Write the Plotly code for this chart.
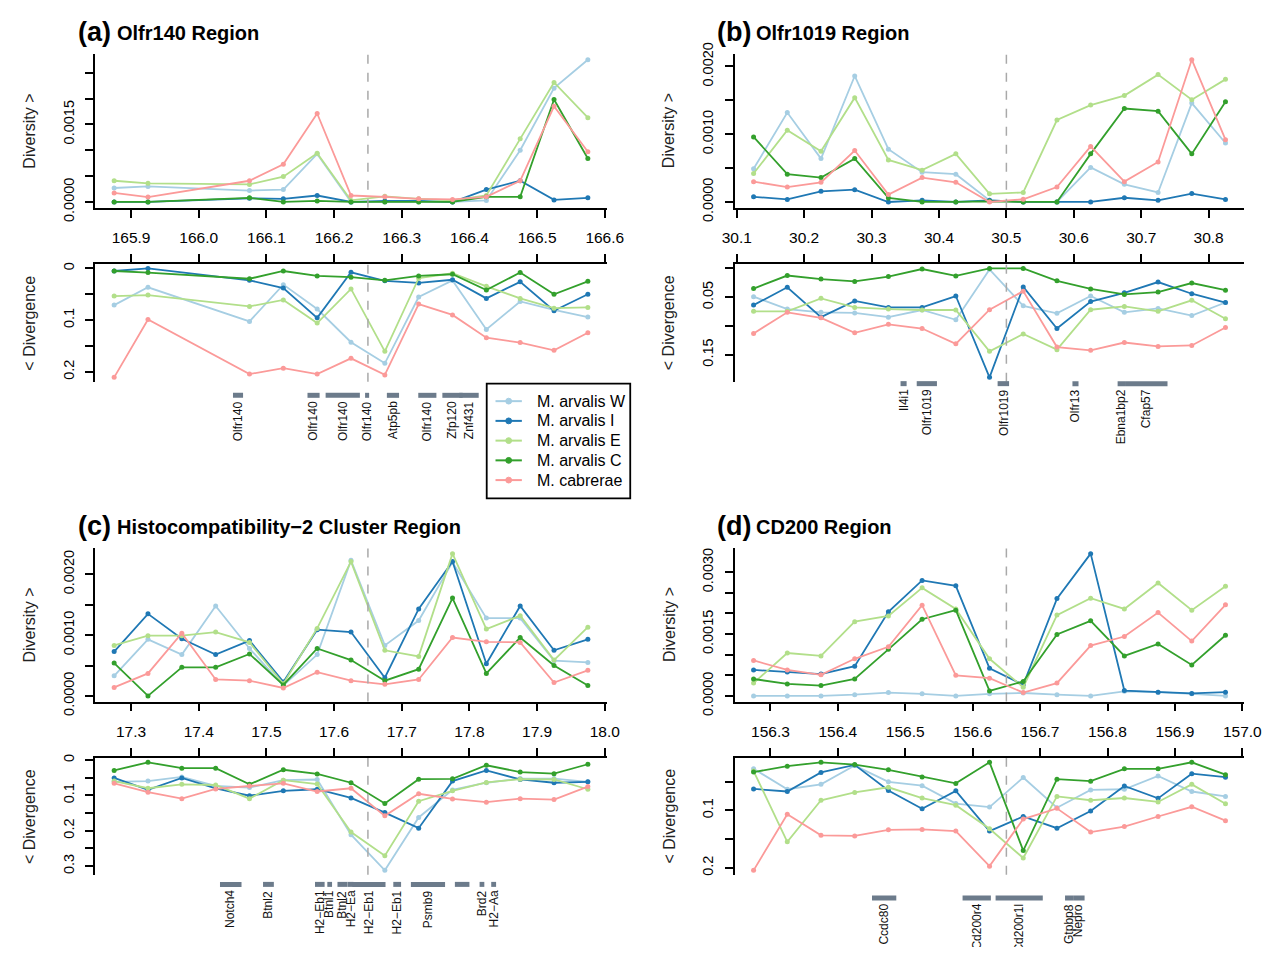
import plotly.graph_objects as go

# ---------------- data ----------------
series_names = ["M. arvalis W", "M. arvalis I", "M. arvalis E", "M. arvalis C", "M. cabrerae"]
series_colors = ["#A6CEE3", "#1F78B4", "#B2DF8A", "#33A02C", "#FB9A99"]

# (a) Olfr140 Region
pos_a = [165.875, 165.925, 166.075, 166.125, 166.175, 166.225, 166.275, 166.325,
         166.375, 166.425, 166.475, 166.525, 166.575]
div_a_W = [0.00027, 0.00030, 0.00022, 0.00024, 0.00093, 0.0, 0.0, 0.0, 0.0, 0.00003, 0.00100, 0.00220, 0.00275]
div_a_I = [0.0, 0.0, 0.00007, 0.00006, 0.000125, 0.0, 0.00002, 0.00002, 0.0, 0.00024, 0.00041, 0.00004, 0.00008]
div_a_E = [0.00041, 0.00036, 0.00034, 0.00049, 0.00094, 0.00003, 0.00011, 0.00006, 0.00003, 0.000125, 0.00122, 0.00231, 0.00163]
div_a_C = [0.0, 0.0, 0.00008, 0.0, 0.00002, 0.0, 0.0, 0.0, 0.0, 0.0001, 0.0001, 0.00198, 0.00084]
div_a_P = [0.000175, 0.000094, 0.00041, 0.00073, 0.00171, 0.000125, 0.0001, 0.00006, 0.00005, 0.0001, 0.00041, 0.00185, 0.00097]
dvg_a_W = [0.071, 0.0365, 0.1025, 0.0314, 0.0786, 0.1428, 0.1836, 0.0553, 0.0233, 0.118, 0.064, 0.080, 0.094]
dvg_a_I = [0.005, 0.0, 0.023, 0.038, 0.0956, 0.0075, 0.024, 0.028, 0.022, 0.058, 0.026, 0.082, 0.050]
dvg_a_E = [0.0535, 0.0516, 0.0736, 0.061, 0.1057, 0.0396, 0.1604, 0.019, 0.0094, 0.0346, 0.058, 0.077, 0.0755]
dvg_a_C = [0.005, 0.008, 0.020, 0.005, 0.0145, 0.017, 0.023, 0.0145, 0.0113, 0.042, 0.008, 0.050, 0.025]
dvg_a_P = [0.2107, 0.0987, 0.2044, 0.193, 0.2044, 0.174, 0.206, 0.069, 0.090, 0.134, 0.1434, 0.1585, 0.1245]
gene_a_name = ["Olfr140", "Olfr140", "Olfr140", "Olfr140", "Atp5pb", "Olfr140", "Zfp120", "Znf431"]
gene_a_start = [166.0506, 166.1607, 166.1875, 166.2458, 166.278, 166.3244, 166.360, 166.385]
gene_a_end = [166.0655, 166.1786, 166.2381, 166.2518, 166.296, 166.3512, 166.390, 166.4137]

# (b) Olfr1019 Region
pos_b = [30.125, 30.175, 30.225, 30.275, 30.325, 30.375, 30.425, 30.475,
         30.525, 30.575, 30.625, 30.675, 30.725, 30.775, 30.825]
div_b_W = [0.00049, 0.00132, 0.00064, 0.00186, 0.00078, 0.00044, 0.00041, 0.000024, 0.0, 0.0, 0.00051, 0.00026, 0.00014, 0.00146, 0.00087]
div_b_I = [0.000076, 0.000038, 0.000157, 0.000181, 0.0, 0.000024, 0.0, 0.000024, 0.0, 0.0, 0.0, 0.000062, 0.000024, 0.000124, 0.000038]
div_b_E = [0.00042, 0.00106, 0.00075, 0.00154, 0.00062, 0.00047, 0.00071, 0.00012, 0.00014, 0.00121, 0.00143, 0.00157, 0.00188, 0.00151, 0.00181]
div_b_C = [0.00096, 0.00041, 0.00036, 0.00064, 0.00006, 0.0, 0.0, 0.00001, 0.0, 0.0, 0.00071, 0.00138, 0.00134, 0.00071, 0.00148]
div_b_P = [0.0003, 0.00022, 0.00029, 0.00076, 0.00011, 0.00036, 0.00029, 0.0, 0.00004, 0.00022, 0.00082, 0.0003, 0.00059, 0.0021, 0.00092]
dvg_b_W = [0.0492, 0.0706, 0.0763, 0.0774, 0.0847, 0.0723, 0.0893, 0.0017, 0.065, 0.078, 0.048, 0.0763, 0.0695, 0.0819, 0.0593]
dvg_b_I = [0.0638, 0.0328, 0.0847, 0.0565, 0.0678, 0.0678, 0.048, 0.1893, 0.0322, 0.1045, 0.0576, 0.0424, 0.0237, 0.044, 0.0593]
dvg_b_E = [0.0746, 0.0746, 0.052, 0.0678, 0.0706, 0.0723, 0.0723, 0.144, 0.114, 0.1412, 0.0718, 0.0661, 0.0746, 0.0554, 0.0876]
dvg_b_C = [0.035, 0.0124, 0.0186, 0.0226, 0.0141, 0.0011, 0.013, 0.0, 0.0, 0.0215, 0.0356, 0.0452, 0.0412, 0.0254, 0.0379]
dvg_b_P = [0.113, 0.0763, 0.0859, 0.1119, 0.0972, 0.1045, 0.1311, 0.0718, 0.0395, 0.1367, 0.1424, 0.1288, 0.1356, 0.1339, 0.1028]
gene_b_name = ["Il4i1", "Olfr1019", "Olfr1019", "Olfr13", "Ebna1bp2", "Cfap57"]
gene_b_start = [30.343, 30.367, 30.487, 30.598, 30.665, 30.676]
gene_b_end = [30.352, 30.397, 30.504, 30.607, 30.676, 30.739]

# (c) Histocompatibility-2 Cluster Region
pos_c = [17.275, 17.325, 17.375, 17.425, 17.475, 17.525, 17.575, 17.625,
         17.675, 17.725, 17.775, 17.825, 17.875, 17.925, 17.975]
div_c_W = [0.00033, 0.00093, 0.00068, 0.00148, 0.00078, 0.00017, 0.00068, 0.00223, 0.00083, 0.00124, 0.0022, 0.00128, 0.00128, 0.00058, 0.00055]
div_c_I = [0.00073, 0.00135, 0.00094, 0.00068, 0.00091, 0.00023, 0.00109, 0.00105, 0.0003, 0.00143, 0.00221, 0.00053, 0.00148, 0.00075, 0.00093]
div_c_E = [0.00083, 0.00099, 0.00099, 0.00105, 0.00088, 0.0002, 0.00111, 0.00221, 0.00075, 0.00065, 0.00234, 0.0011, 0.00132, 0.00059, 0.00113]
div_c_C = [0.00054, 0.0, 0.00047, 0.00047, 0.00069, 0.00018, 0.00078, 0.00059, 0.00025, 0.00044, 0.00161, 0.00037, 0.00096, 0.0005, 0.00017]
div_c_P = [0.00014, 0.00037, 0.00103, 0.00027, 0.00025, 0.00013, 0.00039, 0.00025, 0.00019, 0.00027, 0.00096, 0.00089, 0.00088, 0.00022, 0.00042]
dvg_c_W = [0.0615, 0.0596, 0.0477, 0.0734, 0.078, 0.0569, 0.055, 0.211, 0.312, 0.1624, 0.0844, 0.0642, 0.0523, 0.0523, 0.0615]
dvg_c_I = [0.0505, 0.0844, 0.0505, 0.0798, 0.1009, 0.0872, 0.0826, 0.1073, 0.1486, 0.1927, 0.0596, 0.0294, 0.055, 0.0642, 0.0615]
dvg_c_E = [0.0596, 0.0798, 0.0688, 0.0706, 0.1092, 0.0569, 0.0679, 0.2037, 0.2706, 0.1165, 0.0872, 0.0633, 0.0541, 0.055, 0.0826]
dvg_c_C = [0.0294, 0.0064, 0.0229, 0.0229, 0.0688, 0.0275, 0.0394, 0.0642, 0.1229, 0.0541, 0.0532, 0.0147, 0.0339, 0.0385, 0.0119]
dvg_c_P = [0.066, 0.0908, 0.1092, 0.0817, 0.0734, 0.066, 0.089, 0.0798, 0.1578, 0.0954, 0.1101, 0.1193, 0.1092, 0.1119, 0.0752]
gene_c_name = ["Notch4", "Btnl2", "H2\u2212Eb1", "Btnl1", "Btnl2", "H2\u2212Ea", "H2\u2212Eb1",
               "H2\u2212Eb1", "Psmb9", "", "Brd2", "H2\u2212Aa"]
gene_c_start = [17.4314, 17.495, 17.5718, 17.590, 17.605, 17.6200, 17.6270, 17.6875, 17.7135, 17.7785, 17.815, 17.8322]
gene_c_end = [17.4632, 17.511, 17.5860, 17.597, 17.6198, 17.6286, 17.6760, 17.6990, 17.7640, 17.8000, 17.822, 17.8394]

# (d) CD200 Region
pos_d = [156.275, 156.325, 156.375, 156.425, 156.475, 156.525, 156.575, 156.625,
         156.675, 156.725, 156.775, 156.825, 156.875, 156.925, 156.975]
div_d_W = [0.0, 0.0, 0.0, 0.00003, 0.00008, 0.00005, 0.0, 0.00005, 0.00007, 0.00003, 0.0, 0.00011, 0.00009, 0.00005, 0.0]
div_d_I = [0.00063, 0.00058, 0.00053, 0.00072, 0.00204, 0.0028, 0.00267, 0.00067, 0.00027, 0.00236, 0.00345, 0.00013, 0.00009, 0.00006, 0.00009]
div_d_E = [0.00031, 0.00104, 0.00097, 0.0018, 0.00194, 0.00262, 0.00211, 0.0009, 0.00021, 0.00196, 0.00237, 0.00211, 0.00274, 0.00208, 0.00266]
div_d_C = [0.00041, 0.00029, 0.00025, 0.00041, 0.00113, 0.00186, 0.00208, 0.00012, 0.00035, 0.00149, 0.00182, 0.00097, 0.00126, 0.00075, 0.00147]
div_d_P = [0.00086, 0.00063, 0.00051, 0.0009, 0.00119, 0.0022, 0.0005, 0.00043, 0.00008, 0.00031, 0.00122, 0.00144, 0.00202, 0.00133, 0.00221]
dvg_d_W = [0.0279, 0.0634, 0.0549, 0.0223, 0.0504, 0.0572, 0.0882, 0.0944, 0.0431, 0.0955, 0.0645, 0.0634, 0.0403, 0.0673, 0.0758]
dvg_d_I = [0.0628, 0.0673, 0.0341, 0.0211, 0.0656, 0.0972, 0.0662, 0.1361, 0.1107, 0.131, 0.1011, 0.0577, 0.0792, 0.0363, 0.0425]
dvg_d_E = [0.0318, 0.1546, 0.0825, 0.069, 0.06, 0.0786, 0.091, 0.1321, 0.1828, 0.0758, 0.0825, 0.0786, 0.0854, 0.0549, 0.0887]
dvg_d_C = [0.0335, 0.0234, 0.0166, 0.0206, 0.0296, 0.042, 0.0532, 0.0166, 0.1699, 0.0459, 0.0493, 0.0279, 0.0279, 0.0166, 0.038]
dvg_d_P = [0.2042, 0.1068, 0.1434, 0.1445, 0.1338, 0.1332, 0.1361, 0.1969, 0.1152, 0.0966, 0.1377, 0.1282, 0.1107, 0.0938, 0.118]
gene_d_name = ["Ccdc80", "Cd200r4", "Cd200r1l", "Gtpbp8", "Nepro"]
gene_d_start = [156.4507, 156.585, 156.634, 156.737, 156.749]
gene_d_end = [156.4867, 156.627, 156.704, 156.749, 156.766]

# titles, ticks
panel_letters = ["(a)", "(b)", "(c)", "(d)"]
panel_titles = ["Olfr140 Region", "Olfr1019 Region", "Histocompatibility\u22122 Cluster Region", "CD200 Region"]
center_marks = [166.25, 30.5, 17.65, 156.65]

xtick_a = [165.9, 166.0, 166.1, 166.2, 166.3, 166.4, 166.5, 166.6]
xtick_b = [30.1, 30.2, 30.3, 30.4, 30.5, 30.6, 30.7, 30.8]
xtick_c = [17.3, 17.4, 17.5, 17.6, 17.7, 17.8, 17.9, 18.0]
xtick_d = [156.3, 156.4, 156.5, 156.6, 156.7, 156.8, 156.9, 157.0]
xlab_a = ["165.9", "166.0", "166.1", "166.2", "166.3", "166.4", "166.5", "166.6"]
xlab_b = ["30.1", "30.2", "30.3", "30.4", "30.5", "30.6", "30.7", "30.8"]
xlab_c = ["17.3", "17.4", "17.5", "17.6", "17.7", "17.8", "17.9", "18.0"]
xlab_d = ["156.3", "156.4", "156.5", "156.6", "156.7", "156.8", "156.9", "157.0"]

ytop_a = [0.0, 0.0005, 0.0010, 0.0015, 0.0020, 0.0025]
ytoplab_a = ["0.0000", "", "", "0.0015", "", ""]
ytop_b = [0.0, 0.0005, 0.0010, 0.0015, 0.0020]
ytoplab_b = ["0.0000", "", "0.0010", "", "0.0020"]
ytop_c = [0.0, 0.0005, 0.0010, 0.0015, 0.0020]
ytoplab_c = ["0.0000", "", "0.0010", "", "0.0020"]
ytop_d = [0.0, 0.0005, 0.0010, 0.0015, 0.0020, 0.0025, 0.0030]
ytoplab_d = ["0.0000", "", "", "0.0015", "", "", "0.0030"]

ybot_a = [0.0, 0.05, 0.1, 0.15, 0.2]
ybotlab_a = ["0", "", "0.1", "", "0.2"]
ybot_b = [0.0, 0.05, 0.1, 0.15]
ybotlab_b = ["", "0.05", "", "0.15"]
ybot_c = [0.0, 0.05, 0.1, 0.15, 0.2, 0.25, 0.3]
ybotlab_c = ["0", "", "0.1", "", "0.2", "", "0.3"]
ybot_d = [0.05, 0.1, 0.15, 0.2]
ybotlab_d = ["", "0.1", "", "0.2"]

# ---------------- geometry (page pixels) ----------------
PAGE_W, PAGE_H = 1284, 955
BODY = 8  # default body margin of the html page
FW, FH = PAGE_W - 2 * BODY, PAGE_H - 2 * BODY
col_x = [(84, 608), (739, 1261)]
row_top = [(43, 201), (551, 709)]
row_bot = [(259, 380), (767, 887)]
gene_bar_y = [394, 382, 897, 911]
panel_col = [0, 1, 0, 1]
panel_row = [0, 0, 1, 1]
legend_box = (485, 382, 632, 500)

FONT = "Liberation Sans, Arial, sans-serif"


def fx(p):
    return (p - BODY) / FW


def fy(p):
    return 1 - (p - BODY) / FH


def rpad(vals):
    lo, hi = min(vals), max(vals)
    d = (hi - lo) * 0.04
    return [lo - d, hi + d]


panels = [
    dict(pos=pos_a, div=[div_a_W, div_a_I, div_a_E, div_a_C, div_a_P],
         dvg=[dvg_a_W, dvg_a_I, dvg_a_E, dvg_a_C, dvg_a_P],
         gn=gene_a_name, gs=gene_a_start, ge=gene_a_end,
         xt=xtick_a, xl=xlab_a, yt=ytop_a, yl=ytoplab_a, bt=ybot_a, bl=ybotlab_a),
    dict(pos=pos_b, div=[div_b_W, div_b_I, div_b_E, div_b_C, div_b_P],
         dvg=[dvg_b_W, dvg_b_I, dvg_b_E, dvg_b_C, dvg_b_P],
         gn=gene_b_name, gs=gene_b_start, ge=gene_b_end,
         xt=xtick_b, xl=xlab_b, yt=ytop_b, yl=ytoplab_b, bt=ybot_b, bl=ybotlab_b),
    dict(pos=pos_c, div=[div_c_W, div_c_I, div_c_E, div_c_C, div_c_P],
         dvg=[dvg_c_W, dvg_c_I, dvg_c_E, dvg_c_C, dvg_c_P],
         gn=gene_c_name, gs=gene_c_start, ge=gene_c_end,
         xt=xtick_c, xl=xlab_c, yt=ytop_c, yl=ytoplab_c, bt=ybot_c, bl=ybotlab_c),
    dict(pos=pos_d, div=[div_d_W, div_d_I, div_d_E, div_d_C, div_d_P],
         dvg=[dvg_d_W, dvg_d_I, dvg_d_E, dvg_d_C, dvg_d_P],
         gn=gene_d_name, gs=gene_d_start, ge=gene_d_end,
         xt=xtick_d, xl=xlab_d, yt=ytop_d, yl=ytoplab_d, bt=ybot_d, bl=ybotlab_d),
]

fig = go.Figure()
layout = {}
shapes = []
annotations = []

AX_W = 1.8
axis_common = dict(showline=True, linecolor="black", linewidth=AX_W, ticks="outside",
                   ticklen=8, tickwidth=AX_W, tickcolor="black", showgrid=False,
                   zeroline=False, tickfont=dict(family=FONT, size=15.5, color="black"))
ytickfont = dict(family=FONT, size=14.5, color="black")

for i, p in enumerate(panels):
    nt = 2 * i + 1
    nb = 2 * i + 2
    xt_id, yt_id = ("x" if nt == 1 else f"x{nt}"), ("y" if nt == 1 else f"y{nt}")
    xb_id, yb_id = f"x{nb}", f"y{nb}"
    cx = col_x[panel_col[i]]
    rt = row_top[panel_row[i]]
    rb = row_bot[panel_row[i]]
    xr = rpad(p["pos"])
    all_div = [v for s in p["div"] for v in s]
    all_dvg = [v for s in p["dvg"] for v in s]
    yr_top = rpad(all_div)
    yr_bot = rpad(all_dvg)

    for k in range(5):
        fig.add_trace(go.Scatter(
            x=p["pos"], y=p["div"][k], mode="lines+markers", name=series_names[k],
            line=dict(color=series_colors[k], width=1.8),
            marker=dict(color=series_colors[k], size=5),
            showlegend=False, xaxis=xt_id, yaxis=yt_id))
        fig.add_trace(go.Scatter(
            x=p["pos"], y=p["dvg"][k], mode="lines+markers", name=series_names[k],
            line=dict(color=series_colors[k], width=1.8),
            marker=dict(color=series_colors[k], size=5),
            showlegend=False, xaxis=xb_id, yaxis=yb_id))

    layout[f"xaxis{nt}"] = dict(axis_common, domain=[fx(cx[0]), fx(cx[1])], range=xr,
                                tickvals=p["xt"], ticktext=p["xl"], anchor=yt_id,
                                ticklabelstandoff=7)
    layout[f"yaxis{nt}"] = dict(axis_common, domain=[fy(rt[1]), fy(rt[0])], range=yr_top,
                                tickvals=p["yt"], ticktext=p["yl"], anchor=xt_id,
                                tickangle=-90, ticklabelstandoff=6, tickfont=ytickfont)
    layout[f"xaxis{nb}"] = dict(axis_common, domain=[fx(cx[0]), fx(cx[1])], range=xr,
                                tickvals=p["xt"], showticklabels=False, side="top",
                                anchor=yb_id)
    layout[f"yaxis{nb}"] = dict(axis_common, domain=[fy(rb[1]), fy(rb[0])],
                                range=[yr_bot[1], yr_bot[0]],
                                tickvals=p["bt"], ticktext=p["bl"], anchor=xb_id,
                                tickangle=-90, ticklabelstandoff=6, tickfont=ytickfont)

    # dashed centre line
    for xa, ya in ((xt_id, yt_id), (xb_id, yb_id)):
        shapes.append(dict(type="line", xref=xa, yref=f"{ya} domain",
                           x0=center_marks[i], x1=center_marks[i], y0=0, y1=1,
                           line=dict(color="#A9A9A9", width=1.5, dash="dash")))

    # genes
    by = gene_bar_y[i]
    for name, s, e in zip(p["gn"], p["gs"], p["ge"]):
        shapes.append(dict(type="line", xref=xb_id, yref="paper", x0=s, x1=e,
                           y0=fy(by), y1=fy(by),
                           line=dict(color="#6C7B8B", width=5)))
        if name:
            annotations.append(dict(x=(s + e) / 2, xref=xb_id, y=fy(by + 4), yref="paper",
                                    text=name, textangle=-90, showarrow=False,
                                    xanchor="center", yanchor="top",
                                    font=dict(family=FONT, size=12, color="#111111")))

    # titles
    ty = rt[0] - 23
    annotations.append(dict(x=fx(cx[0] - 20), y=fy(ty), xref="paper", yref="paper",
                            text=f"<b>{panel_letters[i]}</b>", showarrow=False,
                            xanchor="left", yanchor="middle",
                            font=dict(family=FONT, size=27, color="black")))
    annotations.append(dict(x=fx(cx[0] + 20), y=fy(ty + 1), xref="paper", yref="paper",
                            text=f"<b>{panel_titles[i]}</b>", showarrow=False,
                            xanchor="left", yanchor="middle",
                            font=dict(family=FONT, size=20, color="black")))
    # axis titles
    annotations.append(dict(x=fx(cx[0] - 67), y=fy((rt[0] + rt[1]) / 2), xref="paper", yref="paper",
                            text="Diversity >", textangle=-90, showarrow=False,
                            xanchor="center", yanchor="middle",
                            font=dict(family=FONT, size=16, color="#222222")))
    annotations.append(dict(x=fx(cx[0] - 67), y=fy((rb[0] + rb[1]) / 2), xref="paper", yref="paper",
                            text="< Divergence", textangle=-90, showarrow=False,
                            xanchor="center", yanchor="middle",
                            font=dict(family=FONT, size=16, color="#222222")))

# ---------------- legend (drawn as a boxed key) ----------------
lx0, ly0, lx1, ly1 = legend_box
shapes.append(dict(type="rect", xref="paper", yref="paper",
                   x0=fx(lx0), x1=fx(lx1), y0=fy(ly1), y1=fy(ly0),
                   line=dict(color="black", width=1.8), fillcolor="white", layer="above"))
for k, (nm, col) in enumerate(zip(series_names, series_colors)):
    yy = ly0 + 18 + k * 20.3
    shapes.append(dict(type="line", xref="paper", yref="paper",
                       x0=fx(lx0 + 9), x1=fx(lx0 + 36), y0=fy(yy), y1=fy(yy),
                       line=dict(color=col, width=2), layer="above"))
    shapes.append(dict(type="circle", xref="paper", yref="paper",
                       x0=fx(lx0 + 19.5), x1=fx(lx0 + 25.5), y0=fy(yy + 3), y1=fy(yy - 3),
                       line=dict(color=col, width=1), fillcolor=col, layer="above"))
    annotations.append(dict(x=fx(lx0 + 49), y=fy(yy), xref="paper", yref="paper",
                            text=nm, showarrow=False, xanchor="left", yanchor="middle",
                            font=dict(family=FONT, size=16, color="black")))

fig.update_layout(
    width=FW, height=FH, autosize=False,
    margin=dict(l=0, r=0, t=0, b=0),
    paper_bgcolor="white", plot_bgcolor="white",
    font=dict(family=FONT, color="black"),
    shapes=shapes, annotations=annotations,
    showlegend=False,
    **layout,
)

fig.write_html("out.html", config={"displayModeBar": False})
